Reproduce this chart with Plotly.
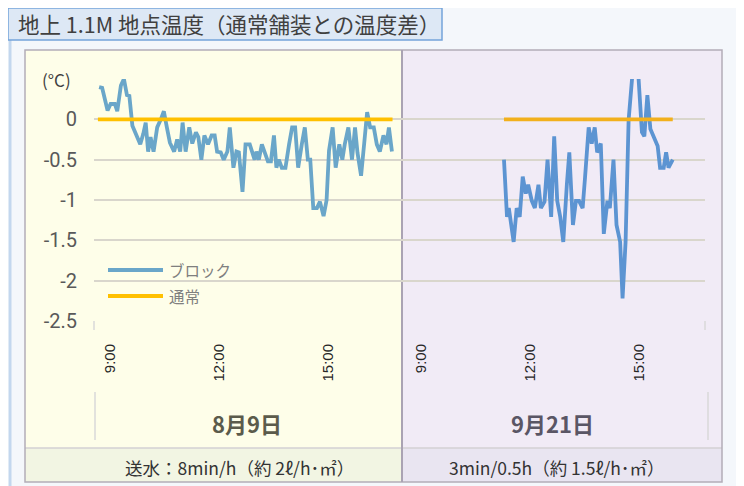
import plotly.graph_objects as go

# ---------------- data ----------------
title_text = "地上 1.1M 地点温度（通常舗装との温度差）"
series_names = ["ブロック", "通常"]
day_labels = ["8月9日", "9月21日"]
water_labels = ["送水：8min/h（約 2ℓ/h･㎡）", "3min/0.5h（約 1.5ℓ/h･㎡）"]
tick_hours = [9, 12, 15]
tick_labels = ["9:00", "12:00", "15:00"]
y_tick_vals = [0.5, 0, -0.5, -1, -1.5, -2, -2.5]
y_tick_text = ["", "0", "-0.5", "-1", "-1.5", "-2", "-2.5"]
y_unit = "(°C)"

block_day1_time = [
    "8:42", "8:47", "8:56", "9:01", "9:08", "9:12", "9:18", "9:23", "9:28", "9:32",
    "9:37", "9:42", "9:50", "9:55", "9:59", "10:03", "10:07", "10:12", "10:18", "10:24",
    "10:29", "10:34", "10:39", "10:46", "10:51", "10:56", "11:00", "11:05", "11:11", "11:16",
    "11:22", "11:26", "11:31", "11:36", "11:42", "11:48", "11:53", "11:57", "12:03", "12:08",
    "12:14", "12:18", "12:24", "12:29", "12:33", "12:39", "12:44", "12:51",
    "12:59", "13:02", "13:06", "13:11", "13:15", "13:21", "13:26", "13:31", "13:35", "13:39",
    "13:44", "13:50", "13:56", "14:01", "14:06", "14:11", "14:17", "14:22", "14:27", "14:31",
    "14:36", "14:42", "14:47", "14:53", "14:58", "15:02", "15:08", "15:13", "15:19", "15:24",
    "15:28", "15:34", "15:40", "15:45", "15:49", "15:55", "16:00", "16:05", "16:10", "16:16",
    "16:21", "16:26", "16:32", "16:37", "16:41", "16:46",
]
block_day1_diff = [
    0.40, 0.39, 0.11, 0.19, 0.19, 0.10, 0.42, 0.50, 0.30, 0.29,
    -0.08, -0.18, -0.31, -0.18, -0.04, -0.40, -0.22, -0.40, -0.10, 0.00,
    0.10, -0.10, -0.29, -0.40, -0.25, -0.40, -0.04, -0.40, -0.10, -0.30,
    -0.16, -0.22, -0.50, -0.20, -0.31, -0.20, -0.20, -0.40, -0.41, -0.50,
    -0.40, -0.10, -0.60, -0.40, -0.41, -0.90, -0.31, -0.31,
    -0.50, -0.40, -0.50, -0.31, -0.40, -0.52, -0.52, -0.20, -0.60, -0.50,
    -0.60, -0.60, -0.31, -0.10, -0.10, -0.60, -0.31, -0.10, -0.50, -0.50,
    -1.10, -1.10, -1.02, -1.20, -1.00, -0.39, -0.10, -0.60, -0.31, -0.50,
    -0.31, -0.10, -0.50, -0.10, -0.41, -0.70, -0.31, 0.09, -0.10, -0.10,
    -0.31, -0.40, -0.20, -0.31, -0.10, -0.40,
]
normal_day1_time = ["8:40", "16:47"]
normal_day1_diff = [0.0, 0.0]

block_day2_time = [
    "11:17", "11:22", "11:25", "11:33", "11:38", "11:43", "11:48", "11:53", "11:57", "12:03",
    "12:08", "12:14", "12:18", "12:24", "12:29", "12:35", "12:40", "12:45", "12:50", "12:55",
    "13:01", "13:05", "13:11", "13:16", "13:21", "13:27", "13:31", "13:37", "13:42", "13:47",
    "13:51", "13:57", "14:02", "14:08", "14:12", "14:18", "14:23", "14:29", "14:33", "14:38",
    "14:43", "14:52", "14:57", "15:05", "15:09", "15:14", "15:19", "15:24", "15:31", "15:35",
    "15:41", "15:45", "15:49", "15:56",
]
block_day2_diff = [
    -0.50, -1.21, -1.10, -1.52, -1.10, -1.21, -0.71, -0.92, -0.81, -1.01,
    -1.10, -0.81, -1.10, -1.02, -0.50, -1.21, -0.21, -1.01, -1.21, -1.52,
    -0.80, -0.41, -1.31, -1.01, -1.01, -1.10, -0.72, -0.10, -0.30, -0.10,
    -0.41, -0.30, -1.42, -1.01, -1.10, -0.50, -1.31, -1.52, -2.22, -1.52,
    -0.01, 0.80, 0.80, -0.16, -0.21, 0.30, -0.12, -0.20, -0.33, -0.60,
    -0.60, -0.41, -0.60, -0.50,
]
normal_day2_time = ["11:17", "15:56"]
normal_day2_diff = [0.0, 0.0]

# ---------------- geometry helpers ----------------
# page has an 8px body margin, so the figure is 8px smaller than the window
W, H = 736, 478
PL, PR, PT, PB = 94, 705, 79, 321          # plot box in page pixels
PW, PH = PR - PL, PB - PT
L, T = PL - 8, PT - 8
R, B = W - (PR - 8), H - (PB - 8)
DAY2_OFFSET = 8.57          # hours between the two day blocks on the x axis
X_RANGE = [8.5592, 8.5592 + PW / 36.3]


def px(x):
    return (x - PL) / PW


def py(y):
    return (PB - y) / PH


def hours(t, offset):
    h, m = t.split(":")
    return int(h) + int(m) / 60 + offset


fig = go.Figure()

blue1, blue2 = "#6aa6c9", "#5c94d2"
orange1, orange2 = "#ffc000", "#f2b01c"

fig.add_trace(go.Scatter(
    x=[hours(t, 0) for t in block_day1_time], y=block_day1_diff,
    mode="lines", name=series_names[0], showlegend=False,
    line=dict(color=blue1, width=3.8)))
fig.add_trace(go.Scatter(
    x=[hours(t, 0) for t in normal_day1_time], y=normal_day1_diff,
    mode="lines", name=series_names[1], showlegend=False,
    line=dict(color=orange1, width=3.8)))
fig.add_trace(go.Scatter(
    x=[hours(t, DAY2_OFFSET) for t in block_day2_time], y=block_day2_diff,
    mode="lines", name=series_names[0], showlegend=False,
    line=dict(color=blue2, width=3.8)))
fig.add_trace(go.Scatter(
    x=[hours(t, DAY2_OFFSET) for t in normal_day2_time], y=normal_day2_diff,
    mode="lines", name=series_names[1], showlegend=False,
    line=dict(color=orange2, width=3.8)))

shapes = []


def rect(x0, y0, x1, y1, fill=None, line=None, lw=0):
    shapes.append(dict(type="rect", xref="paper", yref="paper",
                       x0=px(x0), x1=px(x1), y0=py(y1), y1=py(y0),
                       fillcolor=fill or "rgba(0,0,0,0)",
                       line=dict(color=line or "rgba(0,0,0,0)", width=lw),
                       layer="below"))


def seg(x0, y0, x1, y1, color, lw, layer="below"):
    shapes.append(dict(type="line", xref="paper", yref="paper",
                       x0=px(x0), x1=px(x1), y0=py(y0), y1=py(y1),
                       line=dict(color=color, width=lw), layer=layer))


rect(10, 6, 740, 500, fill="#f4f7fb", line="#c3d7ee", lw=3)
rect(25, 50, 402, 448, fill="#fefee9")
rect(402, 50, 722, 448, fill="#f1ebf6")
rect(25, 448, 402, 482, fill="#f2f5e3")
rect(402, 448, 722, 482, fill="#e9e5f1")
seg(25, 448, 722, 448, "#d3d0d3", 1.5)
rect(25, 50, 722, 482, line="#b3adb8", lw=1.5)
seg(402, 50, 402, 482, "#aaa3b3", 2)
seg(95, 392, 95, 440, "#d9d9d9", 1.5)
seg(708, 392, 708, 440, "#d9d9d9", 1.5)
seg(94, 321, 94, 330, "#d9d9d9", 1.5)
seg(705, 321, 705, 330, "#d9d9d9", 1.5)
rect(8, 8, 442, 40, fill="#dde8f5", line="#74a4da", lw=1.5)

# legend (line samples + labels), placed as in the original chart
legend_colors = [blue1, orange1]
legend_rows = [270, 296]
for color, yrow in zip(legend_colors, legend_rows):
    seg(108, yrow, 163, yrow, color, 4, layer="above")

annotations = [
    dict(text=title_text, x=px(16), y=py(24), xanchor="left", yanchor="middle",
         font=dict(size=21.5, color="#404040", family="Noto Sans CJK JP")),
    dict(text=y_unit, x=px(56), y=py(79), xanchor="center", yanchor="middle",
         font=dict(size=17, color="#404040", family="Noto Sans CJK JP")),
    dict(text="<b>" + day_labels[0] + "</b>", x=px(247), y=py(423),
         xanchor="center", yanchor="middle",
         font=dict(size=22, color="#5b5b4b", family="Noto Sans CJK JP")),
    dict(text="<b>" + day_labels[1] + "</b>", x=px(552), y=py(423),
         xanchor="center", yanchor="middle",
         font=dict(size=22, color="#5a5665", family="Noto Sans CJK JP")),
    dict(text=water_labels[0], x=px(239), y=py(467), xanchor="center", yanchor="middle",
         font=dict(size=17.5, color="#333333", family="Noto Sans CJK JP")),
    dict(text=water_labels[1], x=px(557), y=py(467), xanchor="center", yanchor="middle",
         font=dict(size=17.5, color="#333333", family="Noto Sans CJK JP")),
]
for name, yrow in zip(series_names, legend_rows):
    annotations.append(dict(text=name, x=px(167), y=py(yrow), xanchor="left",
                            yanchor="middle",
                            font=dict(size=15.5, color="#7f7f7f",
                                      family="Noto Sans CJK JP")))
for a in annotations:
    a.update(xref="paper", yref="paper", showarrow=False)

fig.update_layout(
    width=W, height=H,
    margin=dict(l=L, r=R, t=T, b=B),
    paper_bgcolor="white",
    plot_bgcolor="rgba(0,0,0,0)",
    shapes=shapes,
    annotations=annotations,
    showlegend=False,
    xaxis=dict(range=X_RANGE, showgrid=False, zeroline=False,
               tickmode="array",
               tickvals=tick_hours + [h + DAY2_OFFSET for h in tick_hours],
               ticktext=tick_labels + tick_labels,
               tickangle=-90, ticks="", ticklabelstandoff=19,
               tickfont=dict(size=15, color="#262626", family="Liberation Sans"),
               showline=False),
    yaxis=dict(range=[-2.5, 0.5], tickmode="array",
               tickvals=y_tick_vals, ticktext=y_tick_text,
               showgrid=True, gridcolor="#d9d6cc", gridwidth=1.5,
               zeroline=False, showline=False, ticks="",
               ticklabelstandoff=16,
               tickfont=dict(size=20, color="#595959", family="Roboto")),
)

fig.write_html("out.html")
